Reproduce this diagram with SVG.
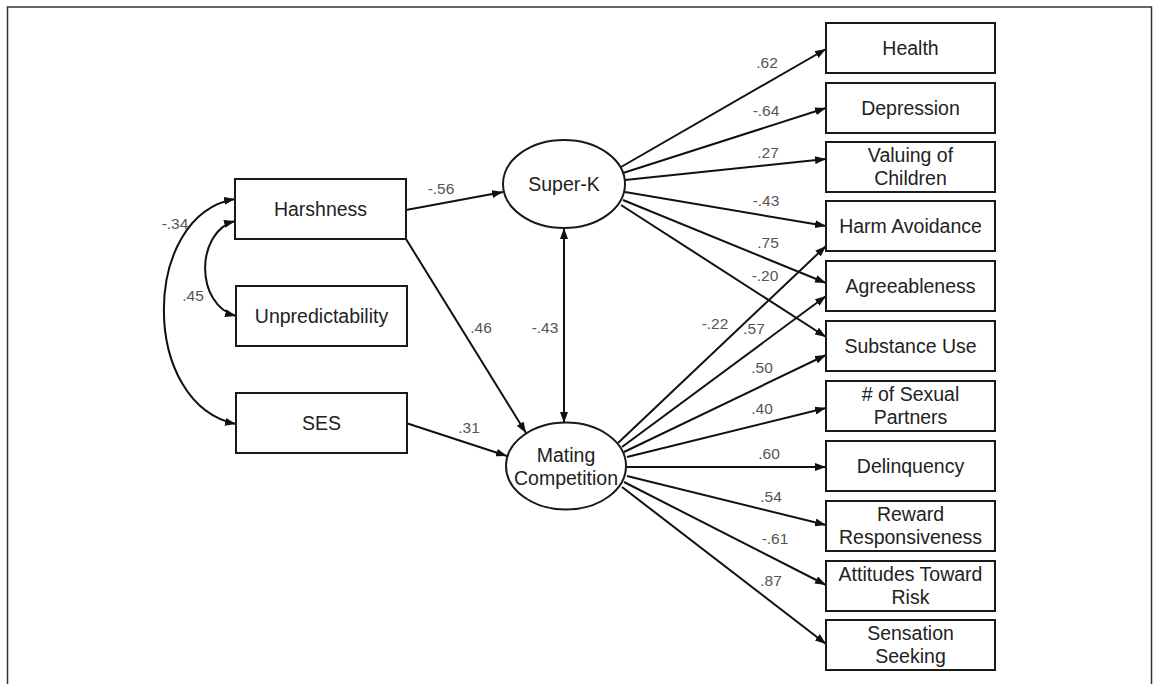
<svg xmlns="http://www.w3.org/2000/svg" width="1153" height="684" viewBox="0 0 1153 684">
<defs>
<marker id="ah" viewBox="0 0 11 8" refX="11" refY="4" markerWidth="11" markerHeight="8" markerUnits="userSpaceOnUse" orient="auto-start-reverse">
<path d="M0,0 L11,4 L0,8 z" fill="#111"/>
</marker>
<style>
.box{fill:#fff;stroke:#1a1a1a;stroke-width:2}
.ell{fill:#fff;stroke:#1a1a1a;stroke-width:2}
.lbl{font-family:"Liberation Sans",Arial,sans-serif;font-size:19.5px;fill:#222;text-anchor:middle}
.co{font-family:"Liberation Sans",Arial,sans-serif;font-size:15.5px;fill:#555;text-anchor:middle}
.ln{fill:none;stroke:#111;stroke-width:2;marker-end:url(#ah)}
.dbl{fill:none;stroke:#111;stroke-width:2;marker-end:url(#ah);marker-start:url(#ah)}
</style>
</defs>
<rect width="1153" height="684" fill="#fff"/>
<path d="M7.5,684 V7 H1151.5 V684" fill="none" stroke="#333" stroke-width="1.5"/>

<g id="connectors">
<path class="dbl" d="M235,199 C140,215 140,405 236,424"/>
<path class="dbl" d="M235,221 C195,232 195,305 236,316"/>
<line class="ln" x1="406" y1="210" x2="503" y2="192"/>
<line class="ln" x1="406" y1="239" x2="526" y2="433"/>
<line class="ln" x1="406" y1="423" x2="507" y2="456"/>
<line class="dbl" x1="564" y1="228" x2="564" y2="423"/>
<line class="ln" x1="621" y1="167" x2="826" y2="49"/>
<line class="ln" x1="623" y1="173" x2="826" y2="108"/>
<line class="ln" x1="625" y1="180" x2="826" y2="159"/>
<line class="ln" x1="625" y1="192" x2="826" y2="226"/>
<line class="ln" x1="623" y1="200" x2="826" y2="283"/>
<line class="ln" x1="621" y1="205" x2="826" y2="337"/>
<line class="ln" x1="618" y1="443" x2="826" y2="246"/>
<line class="ln" x1="622" y1="447" x2="826" y2="296"/>
<line class="ln" x1="624" y1="452" x2="826" y2="355"/>
<line class="ln" x1="627" y1="457" x2="826" y2="408"/>
<line class="ln" x1="627" y1="467" x2="826" y2="467"/>
<line class="ln" x1="627" y1="476" x2="826" y2="525"/>
<line class="ln" x1="624" y1="482" x2="826" y2="585"/>
<line class="ln" x1="622" y1="487" x2="826" y2="644"/>
<text class="co" x="175" y="229">-.34</text>
<text class="co" x="193" y="301">.45</text>
<text class="co" x="441" y="194">-.56</text>
<text class="co" x="481" y="333">.46</text>
<text class="co" x="545" y="333">-.43</text>
<text class="co" x="469" y="433">.31</text>
<text class="co" x="767" y="68">.62</text>
<text class="co" x="766" y="116">-.64</text>
<text class="co" x="768" y="158">.27</text>
<text class="co" x="766" y="206">-.43</text>
<text class="co" x="768" y="248">.75</text>
<text class="co" x="765" y="281">-.20</text>
<text class="co" x="715" y="329">-.22</text>
<text class="co" x="754" y="334">.57</text>
<text class="co" x="762" y="373">.50</text>
<text class="co" x="762" y="414">.40</text>
<text class="co" x="769" y="459">.60</text>
<text class="co" x="771" y="502">.54</text>
<text class="co" x="775" y="544">-.61</text>
<text class="co" x="771" y="586">.87</text>
</g>

<g id="harshness"><rect class="box" x="235" y="179" width="171" height="60"/><text class="lbl" x="320.5" y="216">Harshness</text></g>
<g id="unpredictability"><rect class="box" x="236" y="286" width="171" height="60"/><text class="lbl" x="321.5" y="323">Unpredictability</text></g>
<g id="ses"><rect class="box" x="236" y="393" width="171" height="60"/><text class="lbl" x="321.5" y="430">SES</text></g>

<g id="super-k"><ellipse class="ell" cx="564" cy="184" rx="61" ry="44"/><text class="lbl" x="564" y="191">Super-K</text></g>
<g id="mating-competition"><ellipse class="ell" cx="566" cy="466" rx="60" ry="43.5"/><text class="lbl" x="566" y="462">Mating</text><text class="lbl" x="566" y="485">Competition</text></g>

<g id="health"><rect class="box" x="826" y="23" width="169" height="50"/><text class="lbl" x="910.5" y="55">Health</text></g>
<g id="depression"><rect class="box" x="826" y="83" width="169" height="50"/><text class="lbl" x="910.5" y="115">Depression</text></g>
<g id="valuing"><rect class="box" x="826" y="142" width="169" height="50"/><text class="lbl" x="910.5" y="162">Valuing of</text><text class="lbl" x="910.5" y="185">Children</text></g>
<g id="harm"><rect class="box" x="826" y="201" width="169" height="50"/><text class="lbl" x="910.5" y="233">Harm Avoidance</text></g>
<g id="agree"><rect class="box" x="826" y="261" width="169" height="50"/><text class="lbl" x="910.5" y="293">Agreeableness</text></g>
<g id="substance"><rect class="box" x="826" y="321" width="169" height="50"/><text class="lbl" x="910.5" y="353">Substance Use</text></g>
<g id="sexual"><rect class="box" x="826" y="381" width="169" height="50"/><text class="lbl" x="910.5" y="401">#&#160;of Sexual</text><text class="lbl" x="910.5" y="424">Partners</text></g>
<g id="delinquency"><rect class="box" x="826" y="441" width="169" height="50"/><text class="lbl" x="910.5" y="473">Delinquency</text></g>
<g id="reward"><rect class="box" x="826" y="501" width="169" height="50"/><text class="lbl" x="910.5" y="521">Reward</text><text class="lbl" x="910.5" y="544">Responsiveness</text></g>
<g id="attitudes"><rect class="box" x="826" y="561" width="169" height="50"/><text class="lbl" x="910.5" y="581">Attitudes Toward</text><text class="lbl" x="910.5" y="604">Risk</text></g>
<g id="sensation"><rect class="box" x="826" y="620" width="169" height="50"/><text class="lbl" x="910.5" y="640">Sensation</text><text class="lbl" x="910.5" y="663">Seeking</text></g>
</svg>
